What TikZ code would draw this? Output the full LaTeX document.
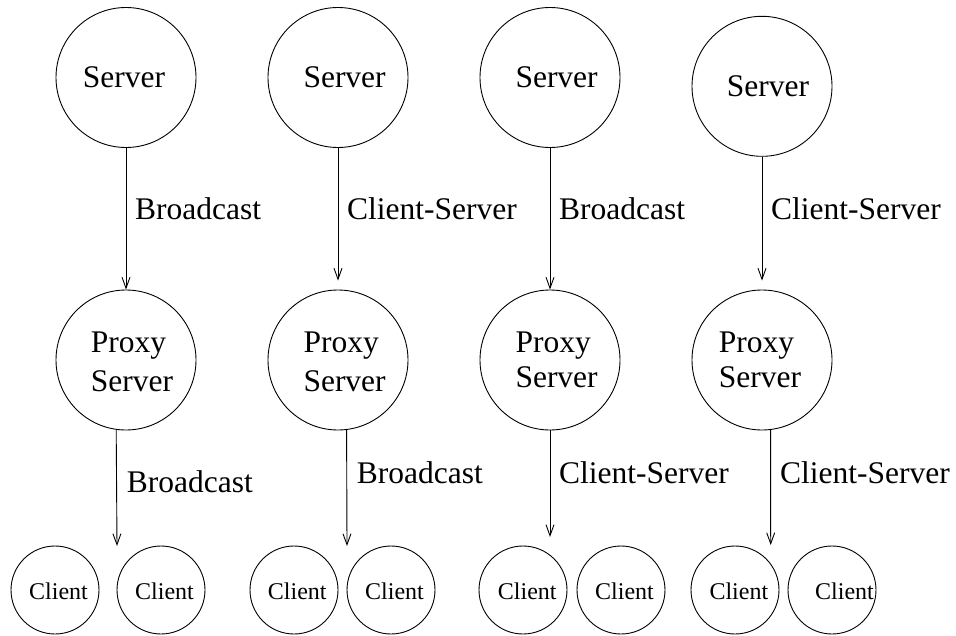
\documentclass[tikz,border=0pt]{standalone}
\usepackage{fontspec}
\setmainfont{Liberation Serif}
\usetikzlibrary{arrows.meta}
\begin{document}
\begin{tikzpicture}[x=1pt,y=-1pt,
  big/.style={circle,draw,minimum size=140pt,inner sep=0pt,line width=0.9pt},
  small/.style={circle,draw,minimum size=88pt,inner sep=0pt,line width=0.9pt},
  bigtxt/.style={anchor=base west,inner sep=0pt,font=\fontsize{31.5}{36}\selectfont},
  smalltxt/.style={anchor=base west,inner sep=0pt,font=\fontsize{24}{28}\selectfont},
  conn/.style={line width=0.9pt,-{Straight Barb[length=11pt,width=8pt]}},
]
\useasboundingbox (0,0) rectangle (956,635);
% servers
\node[big] (s1) at (126,77.5) {};
\node[big] (s2) at (338,77.5) {};
\node[big] (s3) at (550,77.5) {};
\node[big] (s4) at (762,86.3) {};
\node[bigtxt] (s1t) at (82.7,87.3) {Server};
\node[bigtxt] (s2t) at (303.3,87.3) {Server};
\node[bigtxt] (s3t) at (515.3,87.3) {Server};
\node[bigtxt] (s4t) at (726.7,96.7) {Server};
% proxies
\node[big] (p1) at (126,360) {};
\node[big] (p2) at (338,360) {};
\node[big] (p3) at (550,360) {};
\node[big] (p4) at (762,360) {};
\node[bigtxt] (p1a) at (90.7,352) {Proxy};
\node[bigtxt] (p1b) at (90.7,391) {Server};
\node[bigtxt] (p2a) at (303.3,352) {Proxy};
\node[bigtxt] (p2b) at (303.3,391) {Server};
\node[bigtxt] (p3a) at (515.3,352) {Proxy};
\node[bigtxt] (p3b) at (515.3,387) {Server};
\node[bigtxt] (p4a) at (718.7,352) {Proxy};
\node[bigtxt] (p4b) at (718.7,387) {Server};
% clients
\node[small] (c1a) at (55,590) {};
\node[small] (c1b) at (161,590) {};
\node[small] (c2a) at (294,590) {};
\node[small] (c2b) at (391,590) {};
\node[small] (c3a) at (523,590) {};
\node[small] (c3b) at (621,590) {};
\node[small] (c4a) at (735,590) {};
\node[small] (c4b) at (832,590) {};
\node[smalltxt] (c1at) at (29,599) {Client};
\node[smalltxt] (c1bt) at (135,599) {Client};
\node[smalltxt] (c2at) at (267.7,599) {Client};
\node[smalltxt] (c2bt) at (365,599) {Client};
\node[smalltxt] (c3at) at (497.7,599) {Client};
\node[smalltxt] (c3bt) at (595,599) {Client};
\node[smalltxt] (c4at) at (709.3,599) {Client};
\node[smalltxt] (c4bt) at (815,599) {Client};
% upper connectors
\draw[conn] (s1.south) -- (p1.north);
\draw[conn,shorten >=9pt] (s2.south) -- (p2.north);
\draw[conn] (s3.south) -- (p3.north);
\draw[conn,shorten >=9pt] (s4.south) -- (p4.north);
\node[bigtxt] (l1) at (135,219) {Broadcast};
\node[bigtxt] (l2) at (347,219) {Client-Server};
\node[bigtxt] (l3) at (559,219) {Broadcast};
\node[bigtxt] (l4) at (771,219) {Client-Server};
% lower connectors
\coordinate (t1) at (117,546);
\coordinate (t2) at (347,546);
\coordinate (t3) at (550,537);
\coordinate (t4) at (770.7,545);
\draw[conn] (p1.262.6) -- (t1);
\draw[conn] (p2.277.4) -- (t2);
\draw[conn] (p3.south) -- (t3);
\draw[conn] (p4.277.1) -- (t4);
\node[bigtxt] (m1) at (126.7,492.7) {Broadcast};
\node[bigtxt] (m2) at (356.7,483) {Broadcast};
\node[bigtxt] (m3) at (559,483) {Client-Server};
\node[bigtxt] (m4) at (780,483) {Client-Server};
\end{tikzpicture}
\end{document}
